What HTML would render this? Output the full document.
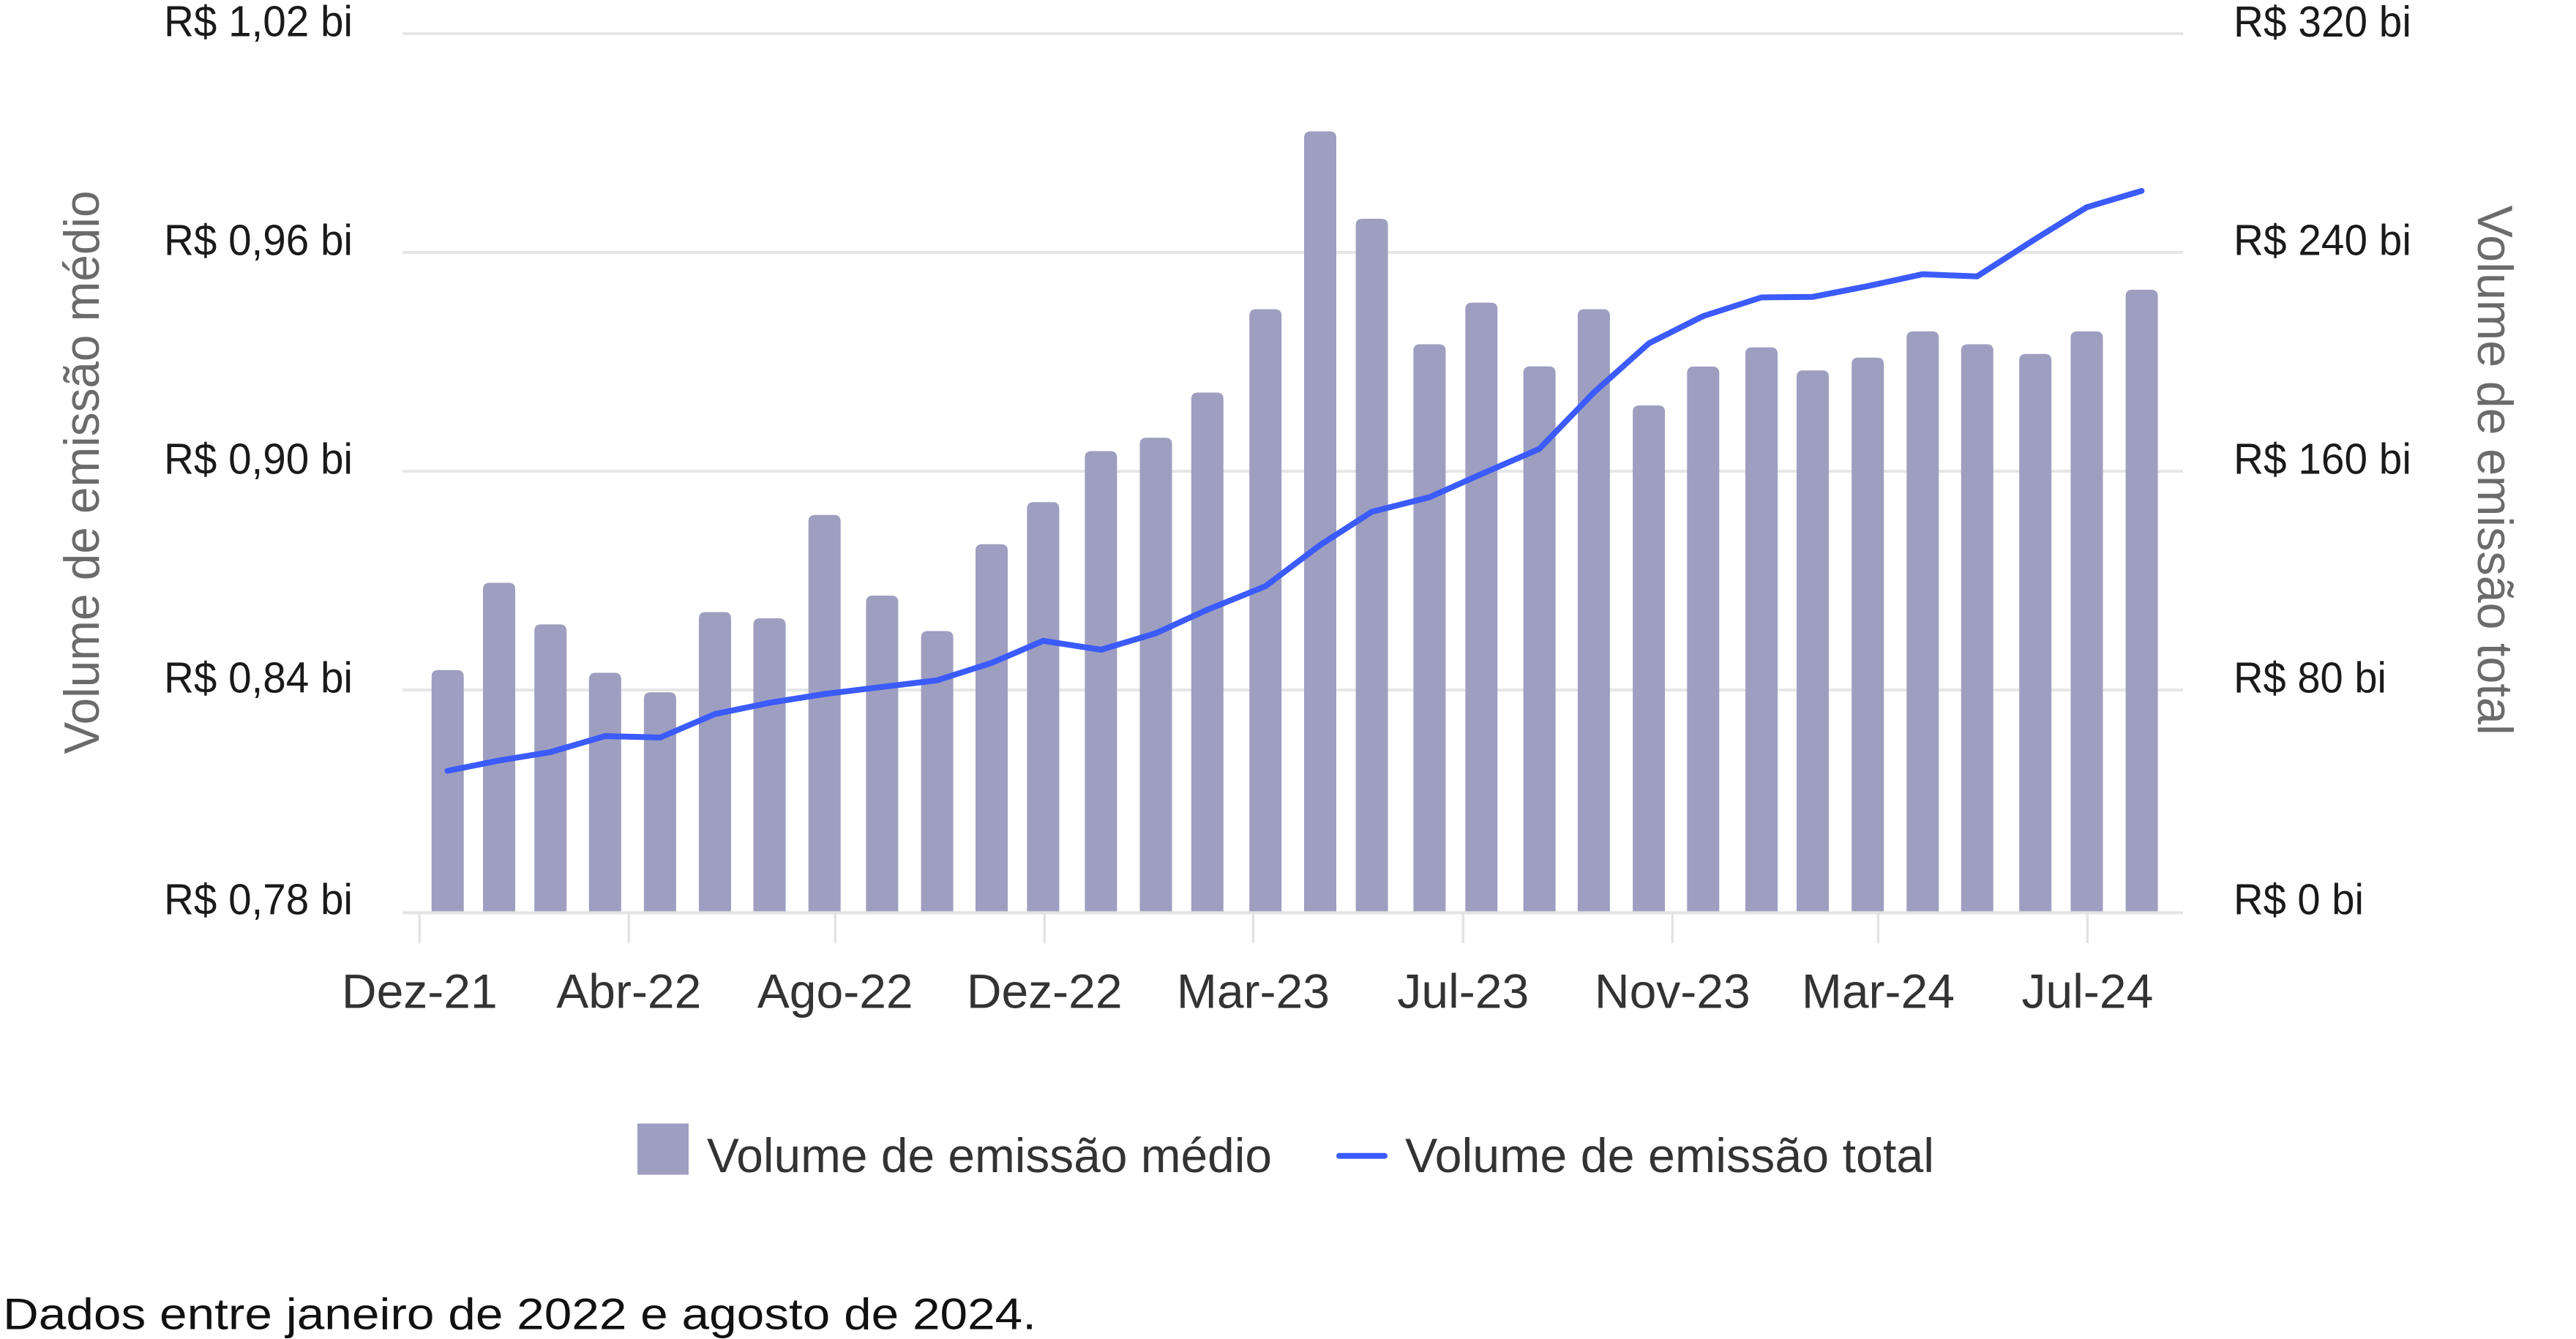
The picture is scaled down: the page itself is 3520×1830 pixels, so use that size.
<!DOCTYPE html>
<html>
<head>
<meta charset="utf-8">
<style>
html,body{margin:0;padding:0;background:#fff;}
svg{display:block;}
text{font-family:"Liberation Sans", Arial, sans-serif;}
</style>
</head>
<body>
<svg width="3520" height="1830" viewBox="0 0 3520 1830" xmlns="http://www.w3.org/2000/svg">
<rect x="0" y="0" width="3520" height="1830" fill="#ffffff"/>

<!-- gridlines -->
<g stroke="#e6e6e6" stroke-width="4">
<line x1="550" y1="46" x2="2983" y2="46"/>
<line x1="550" y1="345" x2="2983" y2="345"/>
<line x1="550" y1="644" x2="2983" y2="644"/>
<line x1="550" y1="943" x2="2983" y2="943"/>
</g>

<!-- bars -->
<g fill="#9e9ec0" id="bars"></g>

<!-- axis line and ticks -->
<g stroke="#e3e3e3">
<line x1="550" y1="1247.4" x2="2983" y2="1247.4" stroke-width="4"/>
<g stroke-width="3.5">
<line x1="573.3" y1="1247" x2="573.3" y2="1289"/>
<line x1="859.3" y1="1247" x2="859.3" y2="1289"/>
<line x1="1141.2" y1="1247" x2="1141.2" y2="1289"/>
<line x1="1427.2" y1="1247" x2="1427.2" y2="1289"/>
<line x1="1712.4" y1="1247" x2="1712.4" y2="1289"/>
<line x1="1999.3" y1="1247" x2="1999.3" y2="1289"/>
<line x1="2285.3" y1="1247" x2="2285.3" y2="1289"/>
<line x1="2566.4" y1="1247" x2="2566.4" y2="1289"/>
<line x1="2852.4" y1="1247" x2="2852.4" y2="1289"/>
</g>
</g>

<!-- line series -->
<polyline fill="none" stroke="#3b5bfc" stroke-width="8" stroke-linejoin="round" stroke-linecap="round"
points="611.5,1053.5 681.8,1039.4 752,1027.9 826.9,1006 902,1008 977.2,975.8 1051.3,960.6 1126.5,948.5 1205.5,938.8 1280.4,929.8 1354.8,906.1 1425.5,875.8 1504.5,888 1579.3,865.5 1649.6,833.4 1729,801.3 1803.8,745 1874.4,699.5 1953.5,679.5 2024.1,648 2103.4,613.5 2177.9,536.5 2253,469.3 2327.4,432 2406.9,406.5 2477.1,405.7 2552,391.1 2627.1,374.8 2701.6,377.8 2781,326.7 2851.3,283.3 2926.4,260.9"/>

<!-- left y labels -->
<g fill="#1a1a1a" font-size="59" text-anchor="end">
<text x="482" y="49.5" textLength="258" lengthAdjust="spacingAndGlyphs">R$ 1,02 bi</text>
<text x="482" y="348.5" textLength="258" lengthAdjust="spacingAndGlyphs">R$ 0,96 bi</text>
<text x="482" y="647.5" textLength="258" lengthAdjust="spacingAndGlyphs">R$ 0,90 bi</text>
<text x="482" y="946.5" textLength="258" lengthAdjust="spacingAndGlyphs">R$ 0,84 bi</text>
<text x="482" y="1249.5" textLength="258" lengthAdjust="spacingAndGlyphs">R$ 0,78 bi</text>
</g>

<!-- right y labels -->
<g fill="#1a1a1a" font-size="59" text-anchor="start">
<text x="3052" y="50" textLength="243" lengthAdjust="spacingAndGlyphs">R$ 320 bi</text>
<text x="3052" y="348.6" textLength="243" lengthAdjust="spacingAndGlyphs">R$ 240 bi</text>
<text x="3052" y="647.5" textLength="243" lengthAdjust="spacingAndGlyphs">R$ 160 bi</text>
<text x="3052" y="946.5" textLength="209" lengthAdjust="spacingAndGlyphs">R$ 80 bi</text>
<text x="3052" y="1249.5" textLength="178" lengthAdjust="spacingAndGlyphs">R$ 0 bi</text>
</g>

<!-- x labels -->
<g fill="#333333" font-size="66" text-anchor="middle">
<text x="573.3" y="1377.5">Dez-21</text>
<text x="859.3" y="1377.5">Abr-22</text>
<text x="1141.2" y="1377.5">Ago-22</text>
<text x="1427.2" y="1377.5">Dez-22</text>
<text x="1712.4" y="1377.5">Mar-23</text>
<text x="1999.3" y="1377.5">Jul-23</text>
<text x="2285.3" y="1377.5">Nov-23</text>
<text x="2566.4" y="1377.5">Mar-24</text>
<text x="2852.4" y="1377.5">Jul-24</text>
</g>

<!-- axis titles -->
<text transform="translate(135,645.5) rotate(-90)" text-anchor="middle" font-size="68" fill="#6b6b6b" textLength="770" lengthAdjust="spacingAndGlyphs">Volume de emissão médio</text>
<text transform="translate(3386,642.6) rotate(90)" text-anchor="middle" font-size="68" fill="#6b6b6b" textLength="724" lengthAdjust="spacingAndGlyphs">Volume de emissão total</text>

<!-- legend -->
<rect x="871" y="1535.5" width="70" height="70" fill="#9e9ec0"/>
<text x="966" y="1601.8" font-size="66" fill="#333333" textLength="772" lengthAdjust="spacingAndGlyphs">Volume de emissão médio</text>
<line x1="1830" y1="1579.7" x2="1892" y2="1579.7" stroke="#3b5bfc" stroke-width="8" stroke-linecap="round"/>
<text x="1920" y="1601.8" font-size="66" fill="#333333" textLength="723" lengthAdjust="spacingAndGlyphs">Volume de emissão total</text>

<!-- footnote -->
<text x="4" y="1816.6" font-size="60" fill="#111111" textLength="1412" lengthAdjust="spacingAndGlyphs">Dados entre janeiro de 2022 e agosto de 2024.</text>
</svg>
<script>
(function(){
  var L=[589.7,660,730.2,804.8,879.9,955,1029.5,1104.7,1183.4,1258.6,1333,1403.4,1482.4,1557.5,1627.8,1707.2,1782,1852.6,1931.4,2002.3,2081.6,2155.9,2231.1,2305.3,2385,2455,2530.2,2605.3,2679.8,2759.2,2829.5,2904.6];
  var T=[915.8,796.5,853.4,919.5,946.1,836.5,845,703.8,814,862.5,743.8,686.2,616.5,598.3,536.5,422.6,179.5,299,470.5,413.6,500.8,422.6,554.1,501,474.7,506.3,488.7,452.9,470.5,483.8,452.9,396];
  var g=document.getElementById('bars');var w=44,r=9,b=1245.5;var ns='http://www.w3.org/2000/svg';
  for(var i=0;i<L.length;i++){
    var x=L[i],t=T[i];
    var d='M'+x+','+b+' V'+(t+r)+' Q'+x+','+t+' '+(x+r)+','+t+' H'+(x+w-r)+' Q'+(x+w)+','+t+' '+(x+w)+','+(t+r)+' V'+b+' Z';
    var p=document.createElementNS(ns,'path');p.setAttribute('d',d);g.appendChild(p);
  }
})();
</script>
</body>
</html>
